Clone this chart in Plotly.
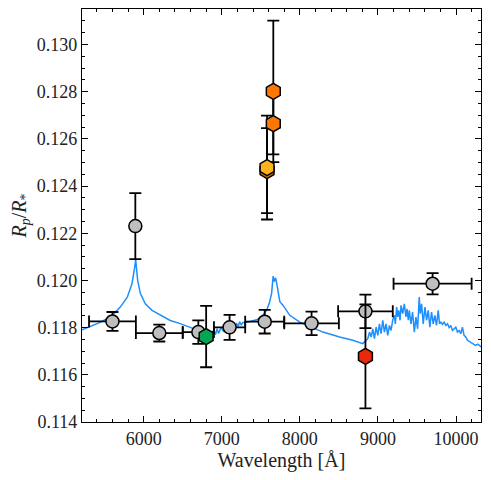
import plotly.graph_objects as go

# ---- model spectrum ----
model_wl = [5210, 5320, 5450, 5600, 5700, 5790, 5850, 5885, 5898, 5905, 5923, 5958,
            6021, 6107, 6213, 6340, 6468, 6596, 6723, 6800, 6870, 6900, 6920, 6940,
            6960, 6990, 7020, 7050, 7150, 7190, 7210, 7230, 7250, 7270, 7320, 7447,
            7520, 7574, 7610, 7638, 7658, 7672, 7689, 7705, 7722, 7744, 7786, 7871,
            7999, 8150, 8296, 8509, 8679, 8806, 8840,
            8870, 8892, 8913, 8934, 8955, 8977, 8998, 9019, 9040, 9062, 9083, 9104,
            9126, 9147, 9168, 9189, 9211, 9223, 9240, 9253, 9266, 9283, 9296, 9317,
            9338, 9359, 9372, 9389, 9402, 9423, 9444, 9466, 9487, 9508, 9529, 9542,
            9559, 9580, 9602, 9623, 9644, 9665, 9687, 9708, 9729, 9750, 9772, 9789,
            9806, 9827, 9848, 9870, 9891, 9912, 9933, 9955, 9976, 9997, 10018, 10040,
            10061, 10082, 10103, 10125, 10146, 10200, 10250, 10280, 10330]
model_rp = [0.11791, 0.11805, 0.11823, 0.11852, 0.11887, 0.11929, 0.11986, 0.12056, 0.12089,
            0.12060, 0.12000, 0.11944,
            0.11901, 0.11873, 0.11852, 0.11830, 0.11817, 0.11800, 0.11785, 0.11780, 0.11775,
            0.11790, 0.11770, 0.11795,
            0.11775, 0.11800, 0.11785, 0.11800, 0.11805, 0.11817, 0.11805, 0.11825, 0.11810,
            0.11822, 0.11823, 0.11833,
            0.11850, 0.11873, 0.11905, 0.11944, 0.12018, 0.11995, 0.12011, 0.11985, 0.11958,
            0.11910, 0.11894, 0.11852,
            0.11823, 0.11800, 0.11781, 0.11760, 0.11746, 0.11732, 0.11745,
            0.11753, 0.11781, 0.11760, 0.11795, 0.11753, 0.11802, 0.11767, 0.11816, 0.11774,
            0.11831, 0.11781, 0.11816,
            0.11767, 0.11809, 0.11788, 0.11831, 0.11852, 0.11816, 0.11887, 0.11845, 0.11873,
            0.11831, 0.11894, 0.11859,
            0.11901, 0.11845, 0.11880, 0.11831, 0.11873, 0.11816, 0.11866, 0.11781, 0.11845,
            0.11795, 0.11929, 0.11859,
            0.11901, 0.11816, 0.11887, 0.11831, 0.11873, 0.11802, 0.11866, 0.11816, 0.11852,
            0.11809, 0.11873, 0.11816,
            0.11823, 0.11814, 0.11823, 0.11809, 0.11816, 0.11800, 0.11809, 0.11788, 0.11795,
            0.11802, 0.11781, 0.11788,
            0.11774, 0.11802, 0.11767, 0.11760, 0.11746, 0.11735, 0.11725, 0.11730, 0.11716]

# ---- broad-band grey points ----
grey_wl = [5600, 5893, 6200, 6700, 7100, 7550, 8150, 8840, 9700]
grey_wl_err = [300, 0, 300, 200, 200, 250, 350, 350, 500]
grey_rp = [0.11826, 0.12230, 0.11777, 0.11781, 0.11801, 0.11825, 0.11818, 0.11869, 0.11986]
grey_rp_err = [0.00040, 0.00140, 0.00036, 0.00050, 0.00053, 0.00050, 0.00050, 0.00071, 0.00045]

# ---- narrow-band coloured hexagons ----
hex_wl = [7580, 7580, 6800, 7660, 7660, 8840]
hex_rp = [0.12465, 0.12478, 0.11762, 0.12664, 0.12801, 0.11678]
hex_rp_err = [0.00180, 0.00220, 0.00130, 0.00130, 0.00300, 0.00220]
hex_colors = ["#D97000", "#FBB41C", "#00A651", "#FF7700", "#FF7700", "#E8290B"]

x_ticks = [6000, 7000, 8000, 9000, 10000]
y_ticks = [0.114, 0.116, 0.118, 0.120, 0.122, 0.124, 0.126, 0.128, 0.130]

FONT = "Liberation Serif"

fig = go.Figure()
fig.add_trace(go.Scatter(x=model_wl, y=model_rp, mode="lines",
                         line=dict(color="#1E8FFF", width=1.5), hoverinfo="skip"))
fig.add_trace(go.Scatter(
    x=grey_wl, y=grey_rp, mode="markers",
    marker=dict(symbol="circle", size=13, color="#BEBEBE", line=dict(color="black", width=1.5)),
    error_y=dict(type="data", array=grey_rp_err, color="black", thickness=1.8, width=6),
    error_x=dict(type="data", array=grey_wl_err, color="black", thickness=1.8, width=6),
))
fig.add_trace(go.Scatter(
    x=hex_wl, y=hex_rp, mode="markers",
    marker=dict(symbol="hexagon", size=16, color=hex_colors, line=dict(color="black", width=1.5)),
    error_y=dict(type="data", array=hex_rp_err, color="black", thickness=1.8, width=6),
))

axis_common = dict(showline=True, linecolor="black", linewidth=1.2, mirror="allticks",
                   ticks="inside", tickcolor="black", tickwidth=1, ticklen=6,
                   showgrid=False, zeroline=False, automargin=False,
                   tickfont=dict(family=FONT, size=18, color="#222"))
fig.update_xaxes(range=[5210, 10320], tickvals=x_ticks, ticktext=[str(v) for v in x_ticks],
                 minor=dict(dtick=200, tick0=5000, ticks="inside", ticklen=3, tickcolor="black"),
                 title=dict(text="Wavelength [Å]", font=dict(family=FONT, size=20, color="#222"),
                            standoff=4),
                 **axis_common)
fig.update_yaxes(range=[0.114, 0.1315], tickvals=y_ticks, ticktext=[f"{v:.3f}" for v in y_ticks],
                 minor=dict(dtick=0.0005, tick0=0.114, ticks="inside", ticklen=3, tickcolor="black"),
                 title=dict(text="<i>R<sub>p</sub></i>/<i>R</i><sub>*</sub>",
                            font=dict(family=FONT, size=20, color="#222"), standoff=9),
                 **axis_common)
# page body adds an 8px offset; figure size and margins compensate for it
fig.update_layout(width=483, height=472, showlegend=False,
                  plot_bgcolor="white", paper_bgcolor="white",
                  margin=dict(l=74, r=10, t=1, b=58, autoexpand=False))
fig.write_html("out.html")
